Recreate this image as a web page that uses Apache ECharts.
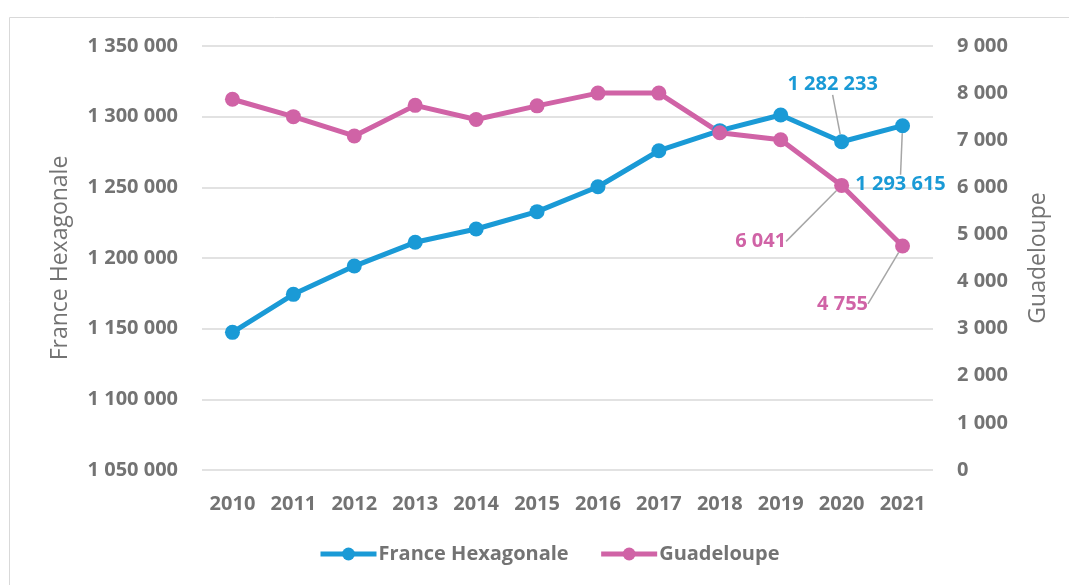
<!DOCTYPE html>
<html>
<head>
<meta charset="utf-8">
<script src="https://cdn.jsdelivr.net/npm/echarts@6/dist/echarts.min.js"></script>
<style>
  html, body { margin: 0; padding: 0; background: #fff; }
  #chart { width: 1069px; height: 585px; }
</style>
</head>
<body>
<div id="chart"></div>
<script>
// années
const years = ['2010', '2011', '2012', '2013', '2014', '2015', '2016', '2017', '2018', '2019', '2020', '2021']
// France Hexagonale (axe gauche)
const franceValues = [1147400, 1174300, 1194300, 1211100, 1220500, 1232800, 1250400, 1275900, 1290100, 1301200, 1282233, 1293615]
// Guadeloupe (axe droit)
const guadeloupeValues = [7870, 7500, 7090, 7740, 7440, 7730, 8000, 8000, 7160, 7010, 6041, 4755]
// points étiquetés (index dans years)
const labeledIdx = [10, 11]

const blue = '#1a9ad6'
const pink = '#d063a6'
const gray = '#737373'
const font = '"Open Sans", "Noto Sans", sans-serif'

// 1 282 233
function fmt (v) {
  return String(Math.round(v)).replace(/\B(?=(\d{3})+(?!\d))/g, ' ')
}

// décalage des étiquettes [dx, dy], par série puis par index
const labelOffsets = {
  0: { 10: [-9, -57], 11: [-2, 59] },
  1: { 10: [-81, 56], 11: [-60, 58] }
}

function makeData (values, color) {
  return values.map(function (v, i) {
    if (labeledIdx.indexOf(i) === -1) return v
    return {
      value: v,
      label: {
        show: true,
        position: 'inside',
        formatter: function (p) { return fmt(p.value) },
        color: color,
        fontWeight: 'bold',
        fontSize: 20,
        fontFamily: font
      }
    }
  })
}

var myChart = echarts.init(document.getElementById('chart'))

var option = {
  animation: false,
  textStyle: { fontFamily: font },
  graphic: [{
    type: 'rect',
    shape: { x: 9.5, y: 17.5, width: 1100, height: 600 },
    style: { fill: 'none', stroke: '#d9d9d9', lineWidth: 1 },
    silent: true
  }],
  grid: { left: 202, right: 136, top: 46, bottom: 115 },
  legend: {
    left: 313,
    top: 539,
    itemWidth: 56,
    itemHeight: 16,
    itemGap: 30,
    lineStyle: { width: 5 },
    textStyle: { color: gray, fontSize: 20, fontWeight: 'bold', fontFamily: font, padding: [0, 0, 0, -3] },
    data: ['France Hexagonale', 'Guadeloupe']
  },
  xAxis: {
    type: 'category',
    data: years,
    boundaryGap: true,
    axisLine: { show: false },
    axisTick: { show: false },
    axisLabel: { color: gray, fontSize: 20, fontWeight: 'bold', margin: 24, interval: 0 }
  },
  yAxis: [
    {
      type: 'value',
      min: 1050000,
      max: 1350000,
      interval: 50000,
      name: 'France Hexagonale',
      nameLocation: 'middle',
      nameGap: 130,
      nameRotate: 90,
      nameTextStyle: { color: gray, fontSize: 23, fontFamily: font },
      axisLine: { show: false },
      axisTick: { show: false },
      axisLabel: { color: gray, fontSize: 20, fontWeight: 'bold', margin: 24, formatter: fmt },
      splitLine: { lineStyle: { color: '#d9d9d9', width: 1.5 } }
    },
    {
      type: 'value',
      position: 'right',
      min: 0,
      max: 9000,
      interval: 1000,
      name: 'Guadeloupe',
      nameLocation: 'middle',
      nameGap: 94,
      nameRotate: 90,
      nameTextStyle: { color: gray, fontSize: 23, fontFamily: font },
      axisLine: { show: false },
      axisTick: { show: false },
      axisLabel: { color: gray, fontSize: 20, fontWeight: 'bold', margin: 24, formatter: fmt },
      splitLine: { show: false }
    }
  ],
  series: [
    {
      name: 'France Hexagonale',
      type: 'line',
      yAxisIndex: 0,
      data: makeData(franceValues, blue),
      symbol: 'circle',
      symbolSize: 15,
      lineStyle: { color: blue, width: 5 },
      itemStyle: { color: blue },
      labelLine: { show: true, lineStyle: { color: '#a6a6a6', width: 1.5 } },
      labelLayout: function (p) {
        var o = labelOffsets[0][p.dataIndex]
        return o ? { dx: o[0], dy: o[1] } : {}
      }
    },
    {
      name: 'Guadeloupe',
      type: 'line',
      yAxisIndex: 1,
      data: makeData(guadeloupeValues, pink),
      symbol: 'circle',
      symbolSize: 15,
      lineStyle: { color: pink, width: 5 },
      itemStyle: { color: pink },
      labelLine: { show: true, lineStyle: { color: '#a6a6a6', width: 1.5 } },
      labelLayout: function (p) {
        var o = labelOffsets[1][p.dataIndex]
        return o ? { dx: o[0], dy: o[1] } : {}
      }
    }
  ]
}

myChart.setOption(option)
</script>
</body>
</html>
